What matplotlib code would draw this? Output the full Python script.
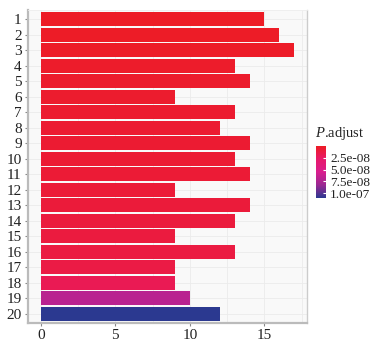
import matplotlib
matplotlib.use("Agg")
import matplotlib.pyplot as plt
import matplotlib.colors as mcolors
import numpy as np

# data
terms = [str(i) for i in range(1, 21)]
counts = [15, 16, 17, 13, 14, 9, 13, 12, 14, 13, 14, 9, 14, 13, 9, 13, 9, 9, 10, 12]
p_adjust = [1e-9, 1.5e-9, 2e-9, 3e-9, 3.5e-9, 4e-9, 5e-9, 5.5e-9, 6e-9, 6.5e-9,
            7e-9, 8e-9, 9e-9, 1.0e-8, 1.1e-8, 1.2e-8, 1.3e-8, 1.9e-8, 6.9e-8, 1.1e-7]
legend_ticks = [2.5e-8, 5.0e-8, 7.5e-8, 1.0e-7]
legend_labels = ["2.5e-08", "5.0e-08", "7.5e-08", "1.0e-07"]

plt.rcParams["font.family"] = ["Liberation Serif", "DejaVu Serif"]
plt.rcParams["mathtext.fontset"] = "custom"
plt.rcParams["mathtext.rm"] = "Liberation Serif"
plt.rcParams["mathtext.it"] = "Liberation Serif:italic"

cmap = mcolors.LinearSegmentedColormap.from_list(
    "padj", ["#ED1C24", "#E8196A", "#D91E8E", "#9A2892", "#2B3990"])
norm = mcolors.Normalize(vmin=0, vmax=1.1e-7)

fig = plt.figure(figsize=(3.79, 3.44), dpi=100)
ax = fig.add_axes([0.0739, 0.061, 0.7361, 0.910])
ax.set_facecolor("#F9F9F9")

y = np.arange(len(terms))
ax.barh(y, counts, height=0.9, color=cmap(norm(np.array(p_adjust))), zorder=3)

ax.set_xlim(-0.85, 17.85)
ax.set_ylim(len(terms) - 0.4, -0.6)
ax.set_yticks(y)
ax.set_yticklabels(terms)
ax.set_xticks([0, 5, 10, 15])
ax.set_xticks([2.5, 7.5, 12.5, 17.5], minor=True)
ax.grid(True, which="both", axis="x", color="#EBEBEB", linewidth=0.6, zorder=0)
ax.grid(True, which="major", axis="y", color="#EBEBEB", linewidth=0.6, zorder=0)
ax.tick_params(axis="both", which="major", labelsize=11, length=2.5,
               color="#888888", pad=2, labelcolor="#222222")
ax.tick_params(axis="both", which="minor", length=0)
for side in ["left", "bottom"]:
    ax.spines[side].set_color("#BBBBBB")
    ax.spines[side].set_linewidth(1.6)
ax.spines["right"].set_color("#CCCCCC")
ax.spines["right"].set_linewidth(1.0)
ax.spines["top"].set_color("#EEEEEE")
ax.spines["top"].set_linewidth(0.6)

# colour legend
cax = fig.add_axes([0.834, 0.4244, 0.0264, 0.151])
sm = plt.cm.ScalarMappable(norm=norm, cmap=cmap)
cb = fig.colorbar(sm, cax=cax, ticks=legend_ticks)
cb.set_ticklabels(legend_labels)
cb.outline.set_visible(False)
cax.invert_yaxis()
cax.tick_params(labelsize=9.5, length=2, color="white", direction="in", pad=3,
                labelcolor="#222222")
fig.text(0.831, 0.588, r"$\it{P}$.adjust", fontsize=10.5, color="#222222",
         ha="left", va="bottom")

fig.savefig("out.png", dpi=100)
